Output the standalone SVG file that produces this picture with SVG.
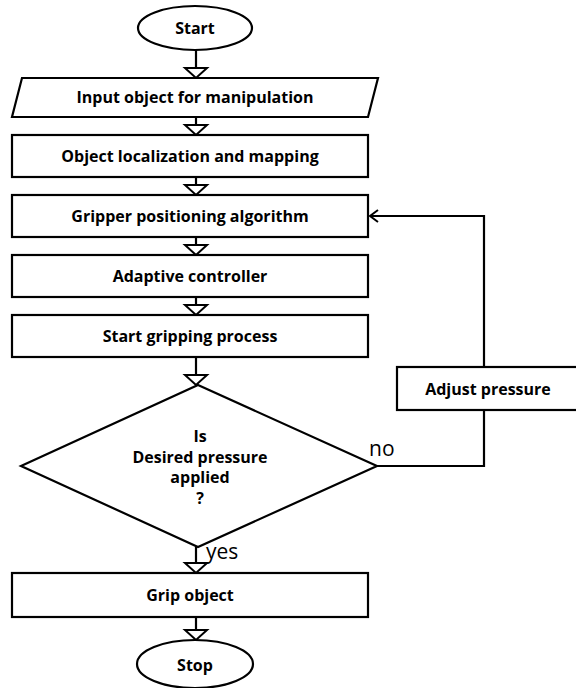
<svg xmlns="http://www.w3.org/2000/svg" width="576" height="688" viewBox="0 0 576 688">
<style>
.shape{fill:#fff;stroke:#000;stroke-width:2.2}
.lbl{font-family:"Open Sans","Liberation Sans",Arial,sans-serif;font-weight:bold;font-size:16px;text-anchor:middle;fill:#000}
.edge{fill:none;stroke:#000;stroke-width:2.2}
.tag{font-family:"Open Sans","Liberation Sans",Arial,sans-serif;font-size:21px;fill:#000}
</style>
<defs>
<marker id="tri" markerUnits="userSpaceOnUse" viewBox="-2 -13 14 26" markerWidth="14" markerHeight="26" refX="10" refY="0" orient="auto" overflow="visible">
<path d="M0,-11 L10,0 L0,11 Z" fill="#fff" stroke="#000" stroke-width="2"/>
</marker>
<marker id="open" markerUnits="userSpaceOnUse" viewBox="-10 -7 12 14" markerWidth="12" markerHeight="14" refX="0" refY="0" orient="auto" overflow="visible">
<path d="M-8,-6 L0,0 L-8,6" fill="none" stroke="#000" stroke-width="2"/>
</marker>
</defs>
<rect width="576" height="688" fill="#fff"/>
<g id="connectors">
<path class="edge" d="M196,50 V78" marker-end="url(#tri)"/>
<path class="edge" d="M196,117 V135" marker-end="url(#tri)"/>
<path class="edge" d="M196,177 V195" marker-end="url(#tri)"/>
<path class="edge" d="M196,237 V255" marker-end="url(#tri)"/>
<path class="edge" d="M196,297 V315" marker-end="url(#tri)"/>
<path class="edge" d="M196,357 V385" marker-end="url(#tri)"/>
<path class="edge" d="M196,547 V573" marker-end="url(#tri)"/>
<path class="edge" d="M196,617 V640" marker-end="url(#tri)"/>
<path class="edge" d="M377,466 H484 V410"/>
<path class="edge" d="M484,367 V216 H370" marker-end="url(#open)"/>
<text class="tag" x="369" y="456">no</text>
<text class="tag" x="206" y="559">yes</text>
</g>
<g id="start">
<ellipse class="shape" cx="195" cy="28" rx="57" ry="22"/>
<text class="lbl" x="195" y="34">Start</text>
</g>
<g id="input">
<polygon class="shape" points="22,78 378,78 368,117 12,117"/>
<text class="lbl" x="195" y="103">Input object for manipulation</text>
</g>
<g id="localize">
<rect class="shape" x="12" y="135" width="356" height="42"/>
<text class="lbl" x="190" y="162">Object localization and mapping</text>
</g>
<g id="position">
<rect class="shape" x="12" y="195" width="356" height="42"/>
<text class="lbl" x="190" y="222">Gripper positioning algorithm</text>
</g>
<g id="adaptive">
<rect class="shape" x="12" y="255" width="356" height="42"/>
<text class="lbl" x="190" y="282">Adaptive controller</text>
</g>
<g id="startgrip">
<rect class="shape" x="12" y="315" width="356" height="42"/>
<text class="lbl" x="190" y="342">Start gripping process</text>
</g>
<g id="decision">
<polygon class="shape" points="198,385 377,466 198,547 21,466"/>
<text class="lbl" x="200" y="442">Is</text>
<text class="lbl" x="200" y="463">Desired pressure</text>
<text class="lbl" x="200" y="483">applied</text>
<text class="lbl" x="200" y="504">?</text>
</g>
<g id="adjust">
<rect class="shape" x="397" y="367" width="181" height="43"/>
<text class="lbl" x="488" y="395">Adjust pressure</text>
</g>
<g id="grip">
<rect class="shape" x="12" y="573" width="356" height="44"/>
<text class="lbl" x="190" y="601">Grip object</text>
</g>
<g id="stop">
<ellipse class="shape" cx="195" cy="664" rx="58" ry="24"/>
<text class="lbl" x="195" y="671">Stop</text>
</g>
</svg>
